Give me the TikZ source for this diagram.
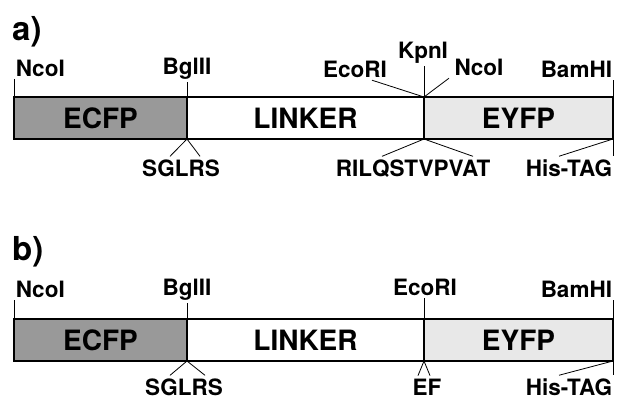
\documentclass[tikz,border=0pt]{standalone}
\usepackage{fontspec}
\setmainfont{TeX Gyre Heros}
\usetikzlibrary{positioning}
\definecolor{ecfpgray}{gray}{0.6}
\definecolor{eyfpgray}{gray}{0.91}
\tikzset{
  seg/.style = {
    rectangle,
    draw = black,
    line width = 1.8pt,
    minimum width = #1,
    minimum height = 42pt,
    inner sep = 0pt,
    outer sep = 0pt,
    font = \fontsize{28}{28}\selectfont\bfseries
  },
  site/.style = {
    inner sep = 0pt,
    outer sep = 3pt,
    anchor = base,
    font = \fontsize{22.5}{22.5}\selectfont\bfseries
  },
  panel/.style = {
    inner sep = 0pt,
    anchor = base west,
    font = \fontsize{33}{33}\selectfont\bfseries
  },
  tick/.style = {
    -,
    line width = 0.8pt
  },
}
% one ECFP - LINKER - EYFP construct, #1 = name, #2 = centre line
\newcommand{\fusion}[2]{
  \node[seg = 173pt, fill = ecfpgray] (#1-ecfp) at (100.5, #2) {ECFP};
  \node[seg = 237pt, right = 0pt of #1-ecfp] (#1-linker) {LINKER};
  \node[seg = 189pt, fill = eyfpgray, right = 0pt of #1-linker] (#1-eyfp) {EYFP};
}

\begin{document}
\begin{tikzpicture}[x = 1pt, y = -1pt]
  \useasboundingbox (0, 0) rectangle (618, 400);
  % a)
  \node[panel] (a-lbl) at (12, 40) {a)};
  \fusion{a}{118}
  \node[site, anchor = base west] (a-nco) at (13, 76) {NcoI};
  \node[site] (a-bgl) at (187, 74) {BglII};
  \node[site] (a-eco) at (355, 77) {EcoRI};
  \node[site] (a-kpn) at (423, 58) {KpnI};
  \node[site] (a-nco2) at (479, 75) {NcoI};
  \node[site, anchor = base east] (a-bam) at (615, 77) {BamHI};
  \node[site] (a-sglrs) at (181, 176) {SGLRS};
  \node[site] (a-rilq) at (413, 176) {RILQSTVPVAT};
  \node[site, anchor = base east] (a-his) at (615, 176) {His-TAG};
  \draw[tick] (a-ecfp.north west) to (a-ecfp.north west |- a-nco.south);
  \draw[tick] (a-ecfp.north east) to (a-ecfp.north east |- a-bgl.south);
  \draw[tick] (a-linker.north east) to ([xshift = 17pt]a-eco.south);
  \draw[tick] (a-linker.north east) to (a-linker.north east |- a-kpn.south);
  \draw[tick] (a-linker.north east) to ([xshift = -30pt]a-nco2.south);
  \draw[tick] (a-eyfp.north east) to (a-eyfp.north east |- a-bam.south);
  \draw[tick] (a-ecfp.south east) to ([xshift = -11pt]a-sglrs.north);
  \draw[tick] (a-ecfp.south east) to ([xshift = 19pt]a-sglrs.north);
  \draw[tick] (a-linker.south east) to ([xshift = -31pt]a-rilq.north);
  \draw[tick] (a-linker.south east) to ([xshift = 60pt]a-rilq.north);
  \draw[tick] (a-eyfp.south east) to ([xshift = -56pt]a-his.north east);
  \draw[tick] (a-eyfp.south east) to (a-eyfp.south east |- a-his.north);
  % b)
  \node[panel] (b-lbl) at (12, 260) {b)};
  \fusion{b}{340}
  \node[site, anchor = base west] (b-nco) at (13, 297) {NcoI};
  \node[site] (b-bgl) at (187, 295) {BglII};
  \node[site] (b-eco) at (425, 295) {EcoRI};
  \node[site, anchor = base east] (b-bam) at (615, 297) {BamHI};
  \node[site] (b-sglrs) at (184, 395) {SGLRS};
  \node[site] (b-ef) at (427, 395) {EF};
  \node[site, anchor = base east] (b-his) at (615, 395) {His-TAG};
  \draw[tick] (b-ecfp.north west) to (b-ecfp.north west |- b-nco.south);
  \draw[tick] (b-ecfp.north east) to (b-ecfp.north east |- b-bgl.south);
  \draw[tick] (b-linker.north east) to (b-linker.north east |- b-eco.south);
  \draw[tick] (b-eyfp.north east) to (b-eyfp.north east |- b-bam.south);
  \draw[tick] (b-ecfp.south east) to ([xshift = -14pt]b-sglrs.north);
  \draw[tick] (b-ecfp.south east) to ([xshift = 21pt]b-sglrs.north);
  \draw[tick] (b-linker.south east) to ([xshift = -9pt]b-ef.north);
  \draw[tick] (b-linker.south east) to ([xshift = 3pt]b-ef.north);
  \draw[tick] (b-eyfp.south east) to ([xshift = -56pt]b-his.north east);
  \draw[tick] (b-eyfp.south east) to (b-eyfp.south east |- b-his.north);
\end{tikzpicture}
\end{document}
